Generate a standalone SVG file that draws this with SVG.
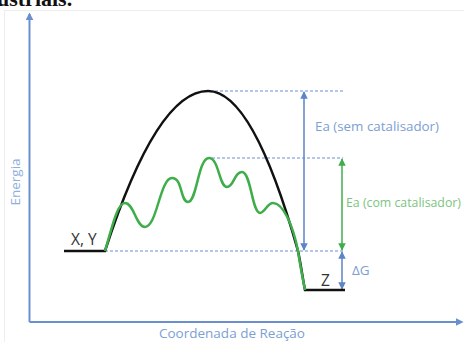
<svg xmlns="http://www.w3.org/2000/svg" width="464" height="342" viewBox="0 0 464 342">
<defs>
<marker id="ab" viewBox="0 0 10 10" refX="9" refY="5" markerWidth="5" markerHeight="5" orient="auto-start-reverse"><path d="M0,0 L10,5 L0,10 z" fill="#5b85c6"/></marker>
<marker id="ag" viewBox="0 0 10 10" refX="9" refY="5" markerWidth="5" markerHeight="5" orient="auto-start-reverse"><path d="M0,0 L10,5 L0,10 z" fill="#3fae4a"/></marker>
<marker id="ax" viewBox="0 0 10 10" refX="8" refY="5" markerWidth="4" markerHeight="4" orient="auto"><path d="M0,0 L10,5 L0,10 z" fill="#6a8fcf"/></marker>
</defs>
<style>
.dash{stroke:#6a8fcf;stroke-width:1;stroke-dasharray:3 2;fill:none}
.lbl{font-family:"Open Sans","Liberation Sans",sans-serif;font-size:13.5px}
.dark{font-family:"Open Sans","Liberation Sans",sans-serif;font-size:15.5px;fill:#333}
</style>
<rect width="464" height="342" fill="#fff"/>
<text x="-3" y="6" font-family="Liberation Serif,serif" font-weight="bold" font-size="22" fill="#111">ustriais.</text>
<rect x="4.5" y="10.5" width="470" height="340" fill="none" stroke="#eeeeee" stroke-width="1"/>
<g id="axes">
<path d="M29.5,322 L29.5,14" stroke="#6a8fcf" stroke-width="2" fill="none" marker-end="url(#ax)"/>
<path d="M29.5,322 L462,322" stroke="#6a8fcf" stroke-width="2" fill="none" marker-end="url(#ax)"/>
<text class="lbl" fill="#8fb0dd" transform="translate(20,182) rotate(-90)" text-anchor="middle">Energia</text>
<text class="lbl" fill="#7c9fd4" x="232" y="338" text-anchor="middle">Coordenada de Reação</text>
</g>
<g id="connectors">
<path class="dash" d="M215,91 H343"/>
<path class="dash" d="M212,158 H343"/>
<path class="dash" d="M105,251 H343"/>
<path d="M304,92 V250" stroke="#5b85c6" stroke-width="1.5" marker-start="url(#ab)" marker-end="url(#ab)"/>
<path d="M342,159 V250" stroke="#3fae4a" stroke-width="1.5" marker-start="url(#ag)" marker-end="url(#ag)"/>
<path d="M342,252 V289" stroke="#5b85c6" stroke-width="1.5" marker-start="url(#ab)" marker-end="url(#ab)"/>
</g>
<g id="curve-sem">
<path d="M64,251 H105 Q157,91 208,91 Q253,91 298,251 C301,265 303,280 305,290 H345" fill="none" stroke="#111" stroke-width="2.5"/>
</g>
<g id="curve-com">
<path d="M105,251 C112,228 117,203 125,203 C134,203 136,227 145,227 C157,227 160,178 172,178 C183,178 180,202 188,202 C197,202 198,158 209,158 C219,158 219,187 227,187 C234,187 234,172 242,172 C251,172 252,213 260,213 C265,213 267,203 273,203 C283,203 293,225 298,251 C300,265 303,280 305,290" fill="none" stroke="#3fae4a" stroke-width="2.5"/>
</g>
<g id="label-xy"><text class="dark" x="71" y="245">X, Y</text></g>
<g id="label-z"><text class="dark" x="321" y="286">Z</text></g>
<g id="label-ea-sem"><text class="lbl" fill="#7c9fd4" x="315" y="131" textLength="124" lengthAdjust="spacingAndGlyphs">Ea (sem catalisador)</text></g>
<g id="label-ea-com"><text class="lbl" fill="#7cc47f" x="346" y="207" style="font-size:12.5px" textLength="115" lengthAdjust="spacingAndGlyphs">Ea (com catalisador)</text></g>
<g id="label-dg"><text class="lbl" fill="#7c9fd4" x="352" y="275">ΔG</text></g>
</svg>
